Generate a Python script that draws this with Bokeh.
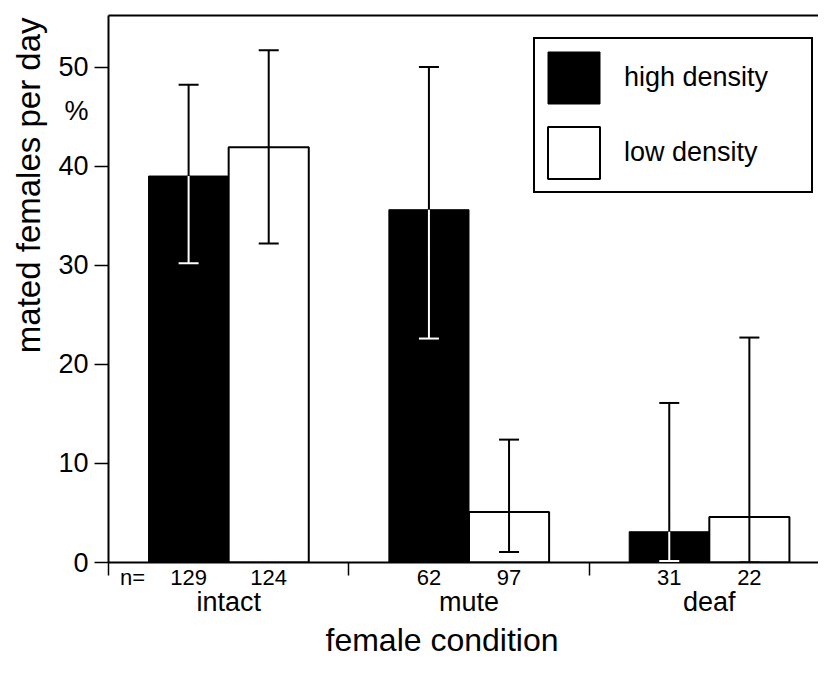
from bokeh.plotting import figure
from bokeh.models import (Range1d, LinearAxis, FixedTicker, ColumnDataSource, Title,
                          Whisker, TeeHead, Legend, LegendItem)
from bokeh.embed import file_html
from bokeh.resources import INLINE

# ---- data ----
categories = ["intact", "mute", "deaf"]
n_high = [129, 62, 31]
n_low = [124, 97, 22]
high = [39.0, 35.6, 3.1]
high_lower = [30.2, 22.6, 0.15]
high_upper = [48.2, 50.0, 16.1]
low = [41.9, 5.1, 4.6]
low_lower = [32.2, 1.05, 0.0]
low_upper = [51.7, 12.4, 22.7]
y_ticks = [0, 10, 20, 30, 40, 50]
y_unit_label = "%"
y_unit_pos = 45.6

FONT = "Liberation Sans"
GROUP = 3  # units per group
xh = [GROUP * i + 1 for i in range(len(categories))]
xl = [GROUP * i + 2 for i in range(len(categories))]
xc = [GROUP * i + 1.5 for i in range(len(categories))]
seps = [GROUP * i for i in range(len(categories))]

p = figure(width=818, height=658, x_range=Range1d(0, 8.863), y_range=Range1d(0, 55.2),
           output_backend="svg", toolbar_location=None,
           min_border_left=106, min_border_right=0, min_border_top=15, min_border_bottom=96)
p.grid.visible = False
p.outline_line_color = None
p.background_fill_color = "white"
p.border_fill_color = "white"

# bars
src_h = ColumnDataSource(dict(x=xh, top=high, lower=high_lower, upper=high_upper))
src_l = ColumnDataSource(dict(x=xl, top=low, lower=low_lower, upper=low_upper))
r_high = p.vbar(x="x", top="top", width=1.0, source=src_h, fill_color="black", line_color="black", line_width=1)
r_low = p.vbar(x="x", top="top", width=1.0, source=src_l, fill_color="white", line_color="black", line_width=2)

# error bars: upper parts black; lower parts white inside black bars
for src, low_col in ((src_h, "white"), (src_l, "black")):
    p.add_layout(Whisker(source=src, base="x", lower="top", upper="upper", dimension="height",
                         line_color="black", line_width=2, lower_head=None,
                         upper_head=TeeHead(size=20, line_color="black", line_width=2),
                         level="annotation"))
    p.add_layout(Whisker(source=src, base="x", lower="lower", upper="top", dimension="height",
                         line_color=low_col, line_width=2, upper_head=None,
                         lower_head=TeeHead(size=20, line_color=low_col, line_width=2),
                         level="annotation"))

# y axis: tick marks via minor ticks, labels (incl. the unit) via major ticks
ya = p.yaxis[0]
ya.ticker = FixedTicker(ticks=y_ticks + [y_unit_pos], minor_ticks=y_ticks)
y_over = {t: str(t) for t in y_ticks}
y_over[y_unit_pos] = y_unit_label
ya.major_label_overrides = y_over
ya.axis_line_width = 2
ya.major_tick_line_color = None
ya.major_tick_out = 0
ya.major_tick_in = 0
ya.minor_tick_out = 14
ya.minor_tick_in = 0
ya.minor_tick_line_width = 1.5
ya.major_label_text_font = FONT
ya.major_label_text_font_size = "27px"
ya.major_label_standoff = 6
ya.major_label_text_color = "black"

p.add_layout(Title(text="mated females per day", align="right", offset=2, vertical_align="middle",
                   standoff=16, text_font=FONT, text_font_size="33px", text_font_style="normal",
                   text_color="black"), "left")

# x axis: n labels, separator ticks
n_ticks = [0.3] + xh + xl
overrides = {0.3: "n="}
for x, n in zip(xh, n_high):
    overrides[x] = str(n)
for x, n in zip(xl, n_low):
    overrides[x] = str(n)
xa = p.xaxis[0]
xa.ticker = FixedTicker(ticks=n_ticks, minor_ticks=seps)
xa.major_label_overrides = overrides
xa.axis_line_width = 2
xa.major_tick_line_color = None
xa.major_tick_out = 0
xa.major_tick_in = 0
xa.minor_tick_out = 13
xa.minor_tick_in = 0
xa.minor_tick_line_width = 1.5
xa.major_label_text_font = FONT
xa.major_label_text_font_size = "22px"
xa.major_label_standoff = -11
xa.major_label_text_color = "black"

# category axis
cat_axis = LinearAxis(ticker=FixedTicker(ticks=xc, minor_ticks=[]),
                      major_label_overrides={x: c for x, c in zip(xc, categories)},
                      axis_line_color=None, major_tick_line_color=None, minor_tick_line_color=None,
                      major_tick_out=0, major_tick_in=0, minor_tick_out=0, minor_tick_in=0,
                      major_label_standoff=-6, major_label_text_font=FONT,
                      major_label_text_font_size="27px", major_label_text_color="black")
p.add_layout(cat_axis, "below")

p.add_layout(Title(text="female condition", align="left", offset=217, standoff=0,
                   text_font=FONT, text_font_size="32px", text_font_style="normal",
                   text_color="black"), "below")

# top frame line
top_axis = LinearAxis(ticker=FixedTicker(ticks=[], minor_ticks=[]), axis_line_width=2,
                      major_tick_line_color=None, minor_tick_line_color=None,
                      major_label_text_font_size="0px")
p.add_layout(top_axis, "above")

legend = Legend(items=[LegendItem(label="high density", renderers=[r_high]),
                       LegendItem(label="low density", renderers=[r_low])],
                location=(425, 369), glyph_width=65, glyph_height=65, padding=6, spacing=10,
                label_standoff=18, label_width=181, border_line_color="black",
                border_line_width=2, border_line_alpha=1.0, label_text_font=FONT,
                label_text_font_size="27px", label_text_color="black",
                background_fill_color="white", background_fill_alpha=1, margin=0)
p.add_layout(legend)

open("out.html", "w").write(file_html(p, INLINE))
